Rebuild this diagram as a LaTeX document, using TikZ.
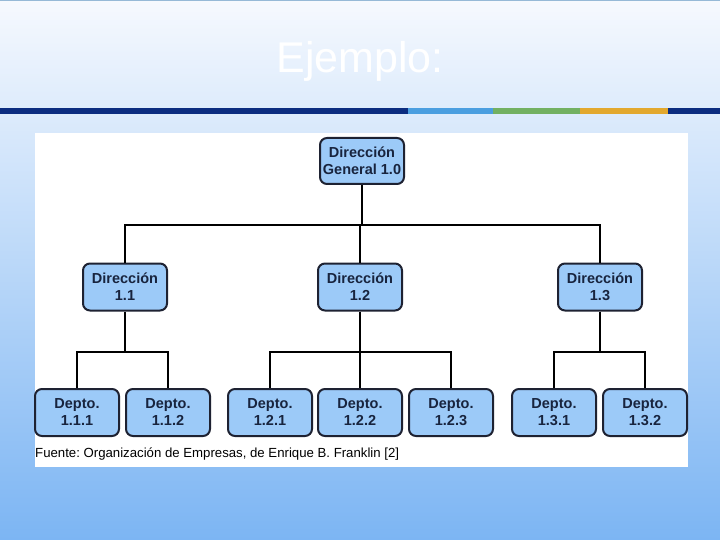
\documentclass[tikz,border=0pt]{standalone}
\usepackage{fontspec}
\setmainfont{Liberation Sans}
\frenchspacing
\definecolor{bgtop}{HTML}{F6F9FE}
\definecolor{bgbot}{HTML}{7CB5F3}
\definecolor{navy}{HTML}{0B2C80}
\definecolor{stripeblue}{HTML}{4A9EE0}
\definecolor{stripegreen}{HTML}{72B062}
\definecolor{stripeorange}{HTML}{E2A82E}
\definecolor{boxfill}{HTML}{9CCAF8}
\definecolor{boxline}{HTML}{1E2232}
\definecolor{boxtext}{HTML}{18243E}
\begin{document}
\begin{tikzpicture}[x=1pt,y=-1pt,
  orgbox/.style={draw=boxline, line width=2pt, fill=boxfill, rounded corners=7pt,
    minimum width=84pt, minimum height=47pt, inner sep=0pt, align=center,
    text=boxtext, font=\fontsize{14.5}{17}\selectfont\bfseries},
  link/.style={draw=black, line width=1.8pt}]
\useasboundingbox (0,0) rectangle (720,540);
% background
\shade[top color=bgtop, bottom color=bgbot] (0,0) rectangle (720,540);
\fill[color={rgb,255:red,150;green,185;blue,215}] (0,0) rectangle (720,1.5);
% title
\node[anchor=base, text=white, font=\fontsize{43}{50}\selectfont] (title) at (360,73) {Ejemplo:};
% stripe
\fill[navy] (0,108) rectangle (408,114);
\fill[stripeblue] (408,108) rectangle (493,114);
\fill[stripegreen] (493,108) rectangle (580,114);
\fill[stripeorange] (580,108) rectangle (668,114);
\fill[navy] (668,108) rectangle (720,114);
% white panel
\fill[white] (35,133) rectangle (688,467);
% nodes
\node[orgbox, minimum height=46pt] (g) at (362,161) {Dirección\\General 1.0};
\node[orgbox] (d11) at (125,287) {Dirección\\1.1};
\node[orgbox] (d12) at (360,287) {Dirección\\1.2};
\node[orgbox] (d13) at (600,287) {Dirección\\1.3};
\node[orgbox] (t111) at (77,412.5) {Depto.\\1.1.1};
\node[orgbox] (t112) at (168,412.5) {Depto.\\1.1.2};
\node[orgbox] (t121) at (270,412.5) {Depto.\\1.2.1};
\node[orgbox] (t122) at (360,412.5) {Depto.\\1.2.2};
\node[orgbox] (t123) at (451,412.5) {Depto.\\1.2.3};
\node[orgbox] (t131) at (554,412.5) {Depto.\\1.3.1};
\node[orgbox] (t132) at (645,412.5) {Depto.\\1.3.2};
% bus coordinates
\coordinate (b0) at (360,225);
\coordinate (b1) at (125,352);
\coordinate (b2) at (360,352);
\coordinate (b3) at (600,352);
% connectors
\draw[link] (g.south) |- (b0);
\draw[link] (d11.north) |- (b0) -| (d13.north);
\draw[link] (b0) -- (d12.north);
\draw[link] (d11.south) -- (b1);
\draw[link] (t111.north) |- (b1) -| (t112.north);
\draw[link] (d12.south) -- (b2);
\draw[link] (t121.north) |- (b2) -| (t123.north);
\draw[link] (b2) -- (t122.north);
\draw[link] (d13.south) -- (b3);
\draw[link] (t131.north) |- (b3) -| (t132.north);
% footer
\node[anchor=base west, inner sep=0pt, font=\fontsize{13.2}{15}\selectfont, text=black] (src) at (35,457) {Fuente: Organización de Empresas, de Enrique B. Franklin [2]};
\end{tikzpicture}
\end{document}
